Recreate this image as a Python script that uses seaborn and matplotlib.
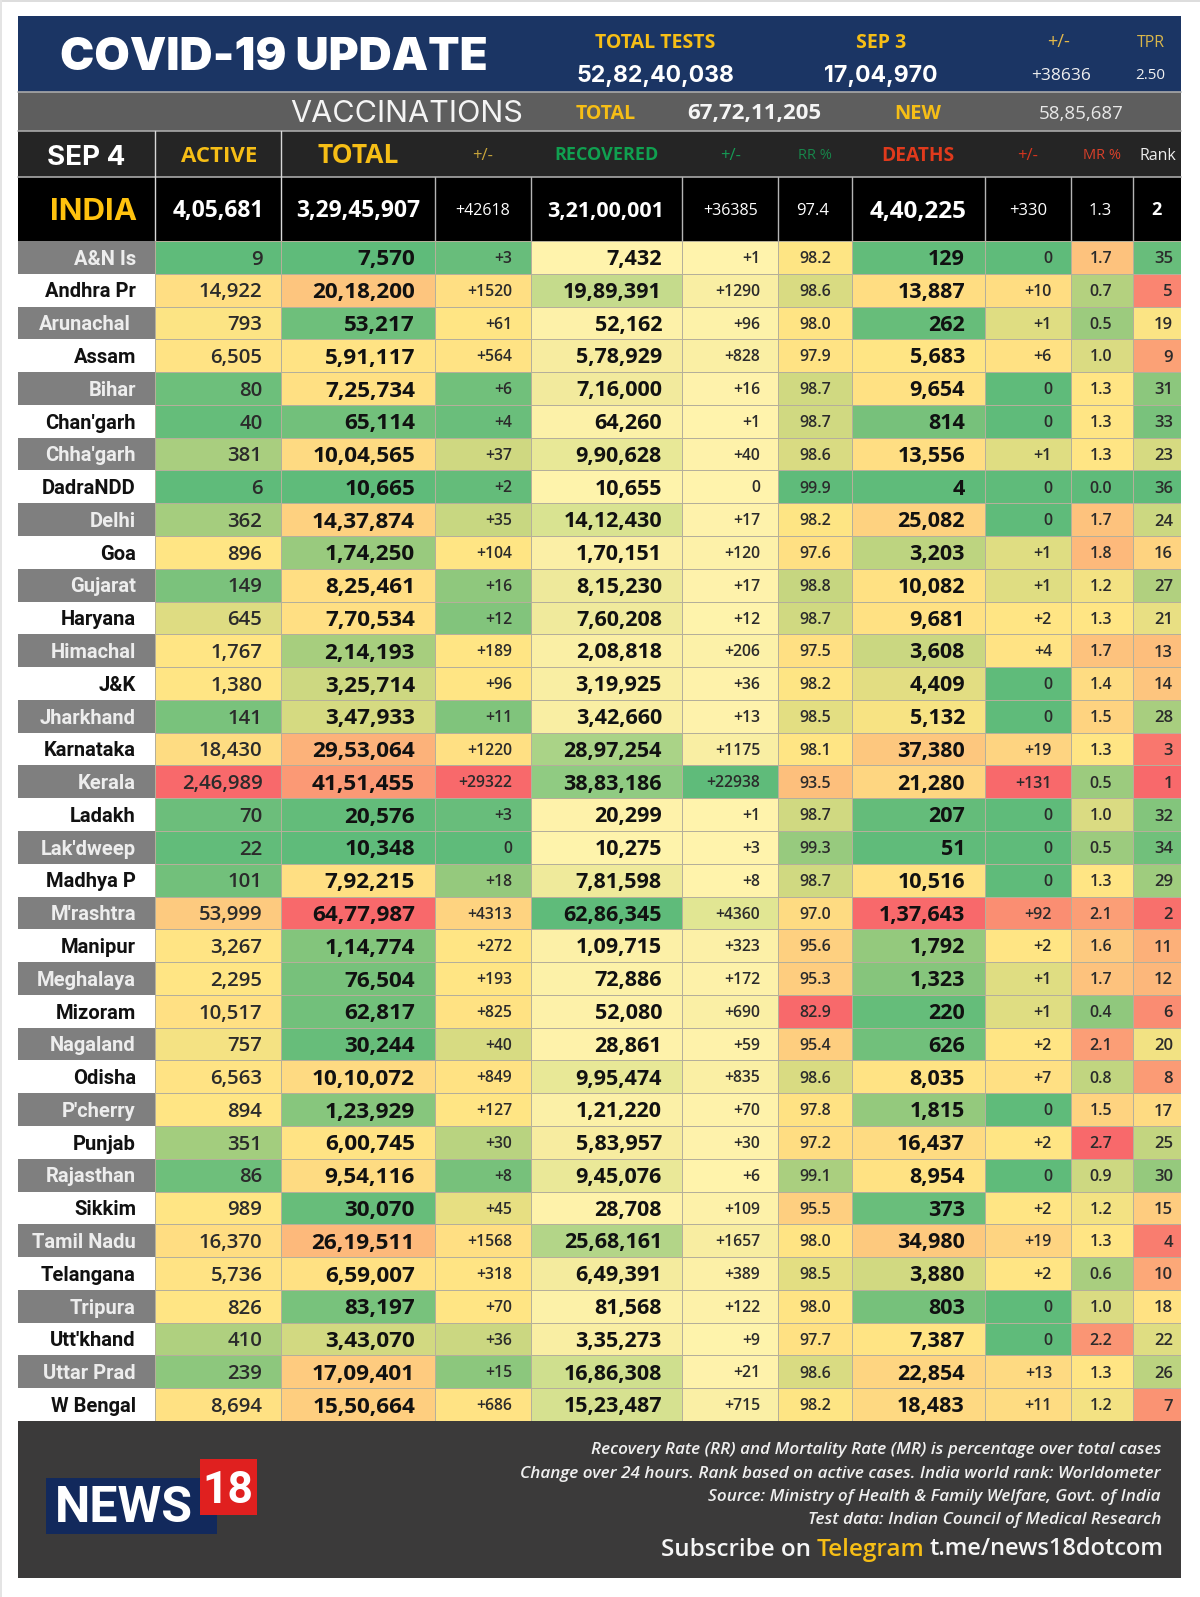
import numpy as np
import matplotlib
matplotlib.use("Agg")
import matplotlib.pyplot as plt
from matplotlib.colors import LinearSegmentedColormap, ListedColormap, TwoSlopeNorm, PowerNorm
from matplotlib.patches import Rectangle
import seaborn as sns

states = ["A&N Is","Andhra Pr","Arunachal","Assam","Bihar","Chan'garh","Chha'garh","DadraNDD","Delhi","Goa",
          "Gujarat","Haryana","Himachal","J&K","Jharkhand","Karnataka","Kerala","Ladakh","Lak'dweep","Madhya P",
          "M'rashtra","Manipur","Meghalaya","Mizoram","Nagaland","Odisha","P'cherry","Punjab","Rajasthan","Sikkim",
          "Tamil Nadu","Telangana","Tripura","Utt'khand","Uttar Prad","W Bengal"]
active = [9,14922,793,6505,80,40,381,6,362,896,149,645,1767,1380,141,18430,246989,70,22,101,53999,3267,2295,10517,
          757,6563,894,351,86,989,16370,5736,826,410,239,8694]
total = [7570,2018200,53217,591117,725734,65114,1004565,10665,1437874,174250,825461,770534,214193,325714,347933,
         2953064,4151455,20576,10348,792215,6477987,114774,76504,62817,30244,1010072,123929,600745,954116,30070,
         2619511,659007,83197,343070,1709401,1550664]
total_chg = [3,1520,61,564,6,4,37,2,35,104,16,12,189,96,11,1220,29322,3,0,18,4313,272,193,825,40,849,127,30,8,45,
             1568,318,70,36,15,686]
recovered = [7432,1989391,52162,578929,716000,64260,990628,10655,1412430,170151,815230,760208,208818,319925,342660,
             2897254,3883186,20299,10275,781598,6286345,109715,72886,52080,28861,995474,121220,583957,945076,28708,
             2568161,649391,81568,335273,1686308,1523487]
recovered_chg = [1,1290,96,828,16,1,40,0,17,120,17,12,206,36,13,1175,22938,1,3,8,4360,323,172,690,59,835,70,30,6,
                 109,1657,389,122,9,21,715]
rr = [98.2,98.6,98.0,97.9,98.7,98.7,98.6,99.9,98.2,97.6,98.8,98.7,97.5,98.2,98.5,98.1,93.5,98.7,99.3,98.7,97.0,
      95.6,95.3,82.9,95.4,98.6,97.8,97.2,99.1,95.5,98.0,98.5,98.0,97.7,98.6,98.2]
deaths = [129,13887,262,5683,9654,814,13556,4,25082,3203,10082,9681,3608,4409,5132,37380,21280,207,51,10516,137643,
          1792,1323,220,626,8035,1815,16437,8954,373,34980,3880,803,7387,22854,18483]
deaths_chg = [0,10,1,6,0,0,1,0,0,1,1,2,4,0,0,19,131,0,0,0,92,2,1,1,2,7,0,2,0,2,19,2,0,0,13,11]
mr = [1.7,0.7,0.5,1.0,1.3,1.3,1.3,0.0,1.7,1.8,1.2,1.3,1.7,1.4,1.5,1.3,0.5,1.0,0.5,1.3,2.1,1.6,1.7,0.4,2.1,0.8,1.5,
      2.7,0.9,1.2,1.3,0.6,1.0,2.2,1.3,1.2]
rank = [35,5,19,9,31,33,23,36,24,16,27,21,13,14,28,3,1,32,34,29,2,11,12,6,20,8,17,25,30,15,4,10,18,22,26,7]

india_row = ["4,05,681","3,29,45,907","+42618","3,21,00,001","+36385","97.4","4,40,225","+330","1.3","2"]
header_labels = ["ACTIVE","TOTAL","+/-","RECOVERED","+/-","RR %","DEATHS","+/-","MR %","Rank"]
footnotes = ["Recovery Rate (RR) and Mortality Rate (MR) is percentage over total cases",
             "Change over 24 hours. Rank based on active cases. India world rank: Worldometer",
             "Source: Ministry of Health & Family Welfare, Govt. of India",
             "Test data: Indian Council of Medical Research"]

def indian(n):
    s = str(n)
    if len(s) <= 3:
        return s
    head, tail = s[:-3], s[-3:]
    parts = []
    while len(head) > 2:
        parts.insert(0, head[-2:])
        head = head[:-2]
    parts.insert(0, head)
    return ",".join(parts + [tail])
def delta(n):
    return "0" if n == 0 else f"+{n}"
def one(v):
    return f"{v:.1f}"

W, H = 1200, 1597
sns.set_theme(style="white")
plt.rcParams["font.family"] = ["Open Sans", "DejaVu Sans"]
fig = plt.figure(figsize=(W/100, H/100), dpi=100, facecolor="white")
bg = fig.add_axes([0, 0, 1, 1], zorder=0)
bg.set_xlim(0, W); bg.set_ylim(H, 0); bg.axis("off")

L, R = 18, 1181
edges = [155, 281, 435, 531, 682, 778, 852, 985, 1071, 1133, 1181]
T_top, T_bot = 241, 1421
GREEN, YEL, RED = "#5FBB7A", "#FFE584", "#F8696B"
gyr = LinearSegmentedColormap.from_list("gyr", [GREEN, YEL, RED])
ryg = gyr.reversed()
ygreen = LinearSegmentedColormap.from_list("yg", [(0, "#FFF3AC"), (.3, "#F7ECA0"), (.45, "#DFE592"),
                                                   (.55, "#C8DC8C"), (1, GREEN)])

def band(x0, x1, y0, y1, c):
    bg.add_patch(Rectangle((x0, y0), x1-x0, y1-y0, fc=c, ec="none"))

band(0, W, 0, 1.5, "#dddddd"); band(0, 1.5, 0, H, "#e4e4e4")
band(L, R, 16, 92, "#1B3564")
band(L, R, 92, 131, "#5E5E5E")
band(L, R, 131, 177, "#252525")
band(L, R, 177, 241, "#000000")
band(L, R, 1421, 1578, "#3B3A3A")
for y in (92, 131, 177):
    bg.plot([L, R], [y, y], color="#a9a9a9", lw=1.2)
for x in (155, 281):
    bg.plot([x, x], [131, 241], color="#d8d8d8", lw=1)
for x in edges[2:-1]:
    bg.plot([x, x], [177, 241], color="#b5b5b5", lw=1)

def t(x, y, s, size, c="white", w="normal", ha="center", fam="Open Sans", st="normal", cap=None):
    """Text centred vertically on y by its cap height."""
    capheight = cap if cap is not None else size * 100/72 * .714
    bg.text(x, y + capheight/2, s, fontsize=size, color=c, fontweight=w, ha=ha, va="baseline",
            family=fam, style=st)

GOLD = "#F6BE16"
t(274, 54, "COVID-19 UPDATE", 33, w="black", fam="Inter")
t(655, 41, "TOTAL TESTS", 14, GOLD, "bold")
t(881, 41, "SEP 3", 14, GOLD, "bold")
t(1059, 41, "+/-", 13, "#E4B94A")
t(1151, 41, "TPR", 11.5, "#D9B64A")
t(655, 74, "52,82,40,038", 16.6, w="bold", fam="Inter")
t(881, 74, "17,04,970", 16.6, w="bold", fam="Inter")
t(1061, 74, "+38636", 12.5, "#f0f0f0")
t(1150, 74, "2.50", 11, "#f0f0f0")
t(407, 111, "VACCINATIONS", 22, "#f4f4f4", fam="Inter")
t(606, 112, "TOTAL", 14, GOLD, "bold")
t(754, 111, "67,72,11,205", 16, "#f5f5f5", "bold")
t(918, 112, "NEW", 14.5, GOLD, "bold")
t(1081, 112, "58,85,687", 13.5, "#e8e8e8")

t(86, 155, "SEP 4", 20, w="bold", fam="Inter")
hdr_x = [219, 358, 483, 606, 731, 815, 918, 1028, 1102, 1158]
hdr_style = [(16, GOLD, "bold"), (19, GOLD, "bold"), (12, "#C9A53B", "normal"), (13, "#10A050", "bold"),
             (12, "#169A55", "normal"), (10.5, "#17854A", "normal"), (13.8, "#E03A1C", "bold"),
             (12, "#D5351E", "normal"), (10.5, "#D9402A", "normal"), (11.5, "#EEEEEE", "normal")]
for x, lab, (sz, col, wt) in zip(hdr_x, header_labels, hdr_style):
    t(x, 154, lab, sz, col, wt)

t(94, 209, "INDIA", 22.5, "#FFC20E", "bold", fam="Inter")
india_x = [218, 358, 483, 606, 731, 813, 918, 1028, 1100, 1156]
india_big = [1, 1, 0, 1, 0, 0, 1, 0, 0, 1]
india_sz = [16.5, 16.5, 11.5, 15.5, 11.5, 12, 17.5, 12, 12, 13]
for x, s, b, sz in zip(india_x, india_row, india_big, india_sz):
    t(x, 209, s, sz, w="bold" if b else "normal")

def cell_ax(x0, x1):
    return fig.add_axes([x0/W, 1-T_bot/H, (x1-x0)/W, (T_bot-T_top)/H], zorder=2)

axn = cell_ax(L, edges[0])
stripes = (np.arange(len(states)) % 2).reshape(-1, 1)
sns.heatmap(stripes, ax=axn, cmap=ListedColormap(["#7F7F7F", "#FFFFFF"]), cbar=False,
            xticklabels=False, yticklabels=False, linewidths=0)
row_h = (T_bot-T_top)/len(states)
for i, s in enumerate(states):
    right = 131 if s == "Arunachal" else 136
    axn.text((right-L)/(edges[0]-L), i+.5+7.3/row_h, s, ha="right", va="baseline", fontsize=14.5,
             family="Roboto", fontweight="bold", color="#111111" if i % 2 else "#EDEDED")

q50 = lambda v, q=50: float(np.percentile(v, q))
cols = [
 (active, indian, gyr, TwoSlopeNorm(q50(active), min(active), max(active)), 262.5, "right", 14.7, "semibold"),
 (total, indian, gyr, TwoSlopeNorm(q50(total), min(total), max(total)), 415, "right", 16.2, "bold"),
 (total_chg, delta, gyr, TwoSlopeNorm(q50(total_chg), min(total_chg), max(total_chg)), 512, "right", 11.3, "semibold"),
 (recovered, indian, ygreen, PowerNorm(.5, min(recovered), max(recovered)), 662, "right", 15.5, "bold"),
 (recovered_chg, delta, ygreen, PowerNorm(.5, min(recovered_chg), max(recovered_chg)), 760, "right", 11.3, "semibold"),
 (rr, one, ryg, TwoSlopeNorm(q50(rr), min(rr), max(rr)), 831, "right", 11.5, "semibold"),
 (deaths, indian, gyr, TwoSlopeNorm(q50(deaths), min(deaths), max(deaths)), 965, "right", 15.5, "bold"),
 (deaths_chg, delta, gyr, TwoSlopeNorm(q50(deaths_chg, 55), min(deaths_chg), max(deaths_chg)), 1052, "right", 11.5, "semibold"),
 (mr, one, gyr, TwoSlopeNorm(q50(mr), min(mr), max(mr)), 1101, "center", 11.5, "semibold"),
 (rank, str, ryg, TwoSlopeNorm(q50(rank), min(rank), max(rank)), 1173, "right", 12, "semibold"),
]
for k, (vals, fmt, cmap, norm, tx, ha, sz, wt) in enumerate(cols):
    x0, x1 = edges[k], edges[k+1]
    ax = cell_ax(x0, x1)
    sns.heatmap(np.array(vals, float).reshape(-1, 1), ax=ax, cmap=cmap, norm=norm, cbar=False,
                xticklabels=False, yticklabels=False, linewidths=.6, linecolor="#B5AF9A")
    cap = sz*100/72*.714
    for i, v in enumerate(vals):
        ax.text((tx-x0)/(x1-x0), i+.5+cap/2/row_h, fmt(v), ha=ha, va="baseline", fontsize=sz,
                fontweight=wt, color="#111111" if wt == "bold" else "#2B2B2B")

for y, s in zip((1448, 1472, 1495, 1518), footnotes):
    t(1161, y, s, 12.3, "#EFEFEF", ha="right", st="italic", w="semibold", fam="Open Sans")
t(811, 1547, "Subscribe on", 17.4, "#F5F5F5", "semibold", ha="right")
t(817, 1547, "Telegram", 17.6, "#F6BE16", "semibold", ha="left")
t(1163, 1547, "t.me/news18dotcom", 17, "#F5F5F5", "semibold", ha="right")

band(46, 217, 1478, 1534, "#12295C")
band(200, 257, 1459, 1515, "#E0201F")
t(124, 1505, "NEWS", 36, w="bold", fam="Roboto", cap=35)
t(228, 1487, "18", 32, w="bold", fam="Roboto", cap=32)

fig.savefig("out.png", dpi=100, facecolor="white")
